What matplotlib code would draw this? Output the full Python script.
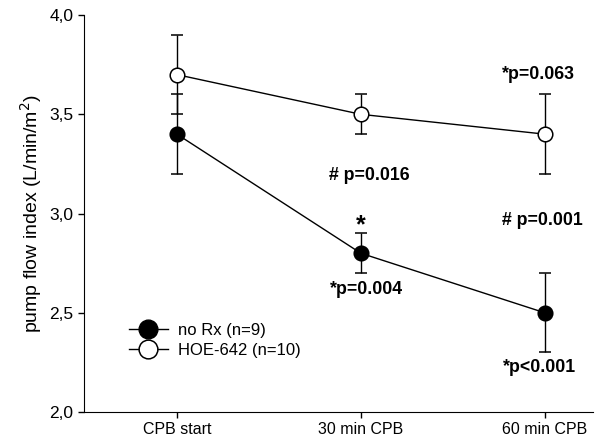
import matplotlib
matplotlib.use("Agg")
import matplotlib.pyplot as plt
from matplotlib.lines import Line2D

plt.rcParams['font.family'] = ['Liberation Sans', 'DejaVu Sans']

categories = ["CPB start", "30 min CPB", "60 min CPB"]
norx_mean = [3.4, 2.8, 2.5]
norx_err = [0.2, 0.1, 0.2]
hoe_mean = [3.7, 3.5, 3.4]
hoe_err = [0.2, 0.1, 0.2]
yticks = [2.0, 2.5, 3.0, 3.5, 4.0]
ytick_labels = ["2,0", "2,5", "3,0", "3,5", "4,0"]

fig = plt.figure(figsize=(5.97, 4.46), dpi=100)
ax = fig.add_axes([0.1407, 0.0762, 0.852, 0.890])

x = list(range(len(categories)))
ax.errorbar(x, hoe_mean, yerr=hoe_err, color='black', lw=1.0, marker='o', ms=10.5,
            mfc='white', mec='black', mew=1.1, capsize=4.3, capthick=1.0, elinewidth=1.0,
            zorder=3)
ax.errorbar(x, norx_mean, yerr=norx_err, color='black', lw=1.0, marker='o', ms=10.5,
            mfc='black', mec='black', mew=1.1, capsize=4.3, capthick=1.0, elinewidth=1.0,
            zorder=3)

ax.set_xlim(-0.505, 2.26)
ax.set_ylim(2.0, 4.0)
ax.set_xticks(x)
ax.set_xticklabels(categories, fontsize=11.5)
ax.set_yticks(yticks)
ax.set_yticklabels(ytick_labels, fontsize=12.5)
ax.spines['top'].set_visible(False)
ax.spines['right'].set_visible(False)
ax.tick_params(direction='out', length=4, width=1)
ax.set_ylabel("pump flow index (L/min/m$^2$)", fontsize=14, labelpad=4)

kw = dict(fontsize=12.8, fontweight='bold', ha='center', va='center')
ax.text(1.965, 3.70, "*p=0.063", **kw)
ax.text(1.045, 3.19, "# p=0.016", **kw)
ax.text(1.0, 2.94, "*", fontsize=18, fontweight='bold', ha='center', va='center')
ax.text(1.03, 2.615, "*p=0.004", **kw)
ax.text(1.985, 2.967, "# p=0.001", **kw)
ax.text(1.973, 2.224, "*p<0.001", **kw)

handles = [
    Line2D([], [], color='black', lw=1.0, marker='o', ms=13.5, mfc='black', mec='black'),
    Line2D([], [], color='black', lw=1.0, marker='o', ms=13.5, mfc='white', mec='black', mew=1.1),
]
labels = ["no Rx (n=9)", "HOE-642 (n=10)"]
ax.legend(handles, labels, loc='center left', bbox_to_anchor=(0.066, 0.18),
          frameon=False, fontsize=12, handlelength=2.3, handletextpad=0.6,
          labelspacing=0.3, borderpad=0.2)

fig.savefig("out.png", dpi=100)
